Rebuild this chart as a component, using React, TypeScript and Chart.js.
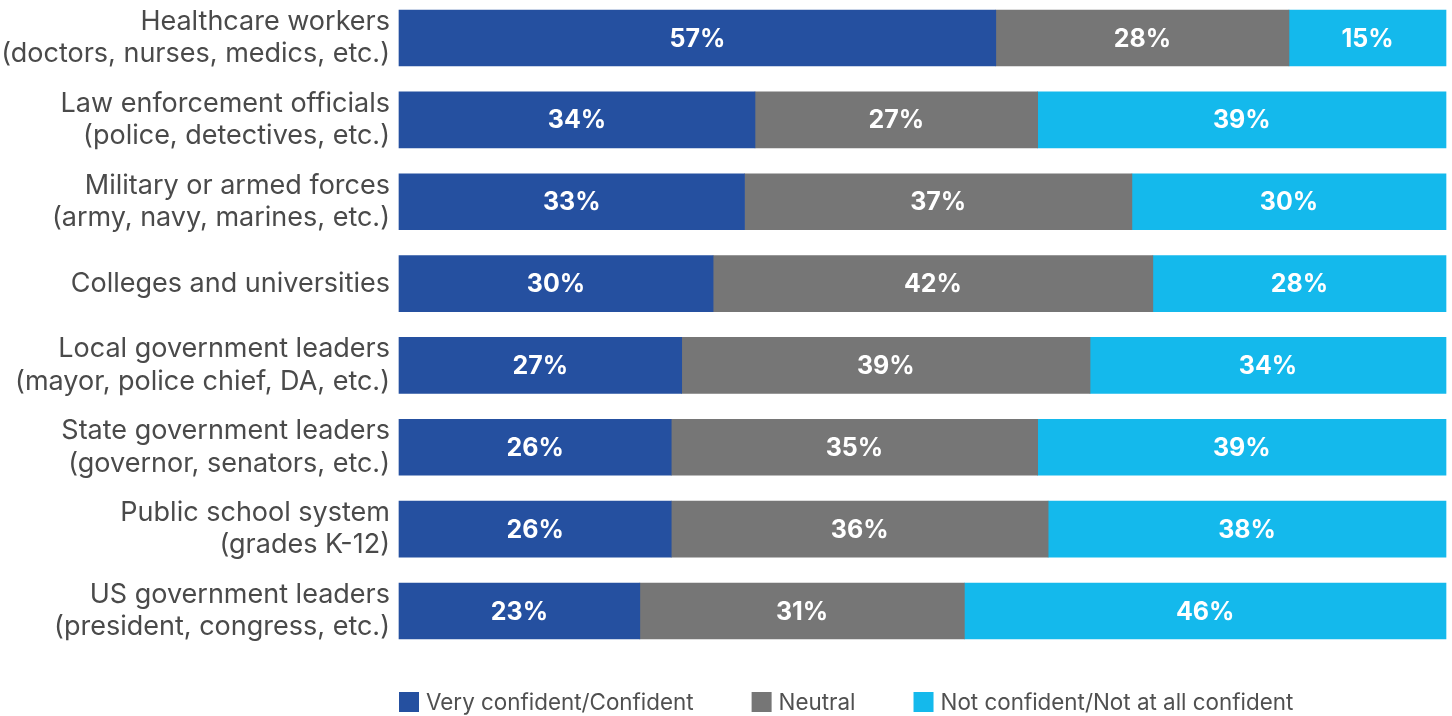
import React, { useEffect, useRef } from "react";
import { Chart, registerables } from "chart.js";

Chart.register(...registerables);

const categories: string[][] = [
  ["Healthcare workers", "(doctors, nurses, medics, etc.)"],
  ["Law enforcement officials", "(police, detectives, etc.)"],
  ["Military or armed forces", "(army, navy, marines, etc.)"],
  ["Colleges and universities"],
  ["Local government leaders", "(mayor, police chief, DA, etc.)"],
  ["State government leaders", "(governor, senators, etc.)"],
  ["Public school system", "(grades K-12)"],
  ["US government leaders", "(president, congress, etc.)"],
];

const seriesNames = [
  "Very confident/Confident",
  "Neutral",
  "Not confident/Not at all confident",
];

const confident = [57, 34, 33, 30, 27, 26, 26, 23];
const neutral = [28, 27, 37, 42, 39, 35, 36, 31];
const notConfident = [15, 39, 30, 28, 34, 39, 38, 46];

const colors = ["#2550A0", "#767676", "#14B9EC"];

const FONT = "Inter, Roboto, 'Noto Sans', sans-serif";
const W = 1452;
const H = 716;

const valueLabels = {
  id: "valueLabels",
  afterDatasetsDraw(chart: any) {
    const ctx = chart.ctx;
    ctx.save();
    ctx.fillStyle = "#ffffff";
    ctx.font = `bold 25px ${FONT}`;
    ctx.textAlign = "center";
    ctx.textBaseline = "middle";
    chart.data.datasets.forEach((ds: any, di: number) => {
      const meta = chart.getDatasetMeta(di);
      meta.data.forEach((el: any, i: number) => {
        const v = ds.data[i];
        const cx = (el.x + el.base) / 2;
        ctx.fillText(`${v}%`, cx, el.y + 1);
      });
    });
    ctx.restore();
  },
};

const customLegend = {
  id: "customLegend",
  afterDraw(chart: any) {
    const ctx = chart.ctx;
    const area = chart.chartArea;
    ctx.save();
    ctx.font = `22.4px ${FONT}`;
    ctx.textBaseline = "middle";
    ctx.textAlign = "left";
    let x = area.left;
    const cy = area.bottom + 91;
    chart.data.datasets.forEach((ds: any) => {
      ctx.fillStyle = ds.backgroundColor;
      ctx.fillRect(x, cy - 10, 20, 20);
      ctx.fillStyle = "#505050";
      const tx = x + 27;
      ctx.fillText(ds.label, tx, cy + 1);
      const w = ctx.measureText(ds.label).width;
      x = tx + w + 58;
    });
    ctx.restore();
  },
};

export default function App() {
  const ref = useRef<HTMLCanvasElement | null>(null);

  useEffect(() => {
    document.body.style.margin = "0";
    if (!ref.current) return;
    const chart = new Chart(ref.current, {
      type: "bar",
      data: {
        labels: categories,
        datasets: [confident, neutral, notConfident].map((d, i) => ({
          label: seriesNames[i],
          data: d,
          backgroundColor: colors[i],
          borderWidth: 0,
          barThickness: 56,
          clip: false as any,
        })),
      },
      options: {
        indexAxis: "y",
        responsive: false,
        animation: false,
        layout: { padding: { top: 38, bottom: 105, right: 6, left: 0 } },
        plugins: {
          legend: { display: false },
          tooltip: { enabled: false },
        },
        scales: {
          x: {
            stacked: true,
            min: 0,
            max: 100,
            display: false,
          },
          y: {
            stacked: true,
            offset: false,
            grid: { display: false, drawTicks: false },
            border: { display: false },
            ticks: {
              padding: 9,
              color: "#4a4a4a",
              font: { family: FONT, size: 27, lineHeight: 1.2 },
            },
            afterFit: (scale: any) => {
              scale.width = 399;
              scale.paddingTop = 0;
              scale.paddingBottom = 0;
            },
          },
        },
      },
      plugins: [valueLabels, customLegend],
    });
    return () => chart.destroy();
  }, []);

  return (
    <div style={{ width: W, height: H }}>
      <canvas ref={ref} width={W} height={H} style={{ display: "block" }} />
    </div>
  );
}
